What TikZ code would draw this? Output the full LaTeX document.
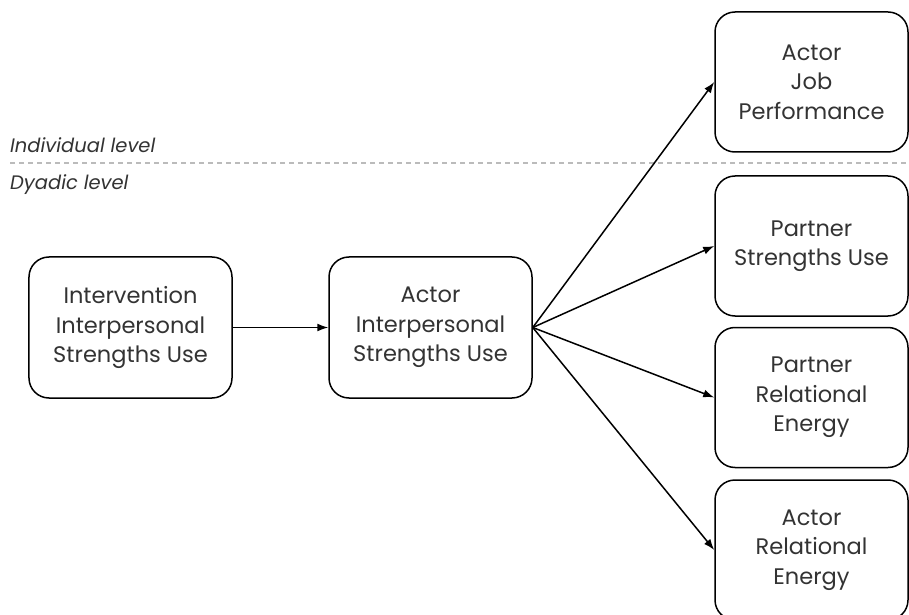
\documentclass[tikz,border=0pt]{standalone}
\usepackage{fontspec}
\setmainfont{Poppins}
\usetikzlibrary{arrows.meta}
\definecolor{txt}{HTML}{333333}
\definecolor{sep}{HTML}{BBBBBB}
\tikzset{
  box/.style={draw=black, line width=1.5bp, rounded corners=20bp, align=center,
    font=\fontsize{22.5bp}{29.5bp}\selectfont, text=txt, inner sep=0pt},
  leftbox/.style={box, minimum width=203bp, minimum height=141bp},
  rightbox/.style={box, minimum width=193bp, minimum height=140bp},
  link/.style={draw=black, line width=1.5bp, -{Latex[length=11bp,width=8bp]}},
  levellabel/.style={anchor=west, inner sep=0pt, text=txt,
    font=\fontsize{19.5bp}{22bp}\selectfont\itshape},
}
\begin{document}
\begin{tikzpicture}[x=1bp,y=-1bp]
  \useasboundingbox (0,0) rectangle (909,615);
  \clip (0,0) rectangle (909,615);
  \fill[white] (0,0) rectangle (909,615);

  % level separator
  \draw[sep, line width=1.2bp, dash pattern=on 5bp off 4bp] (10,163) -- (909,163);
  \node[levellabel] (ind) at (10,145) {Individual level};
  \node[levellabel] (dya) at (10,185) {Dyadic level};

  % boxes
  \node[leftbox] (interv) at (130.5,327.5) {Intervention\\Interpersonal\\Strengths Use};
  \node[leftbox] (actor) at (430.5,327.5) {Actor\\Interpersonal\\Strengths Use};
  \node[rightbox] (jobperf) at (811.5,82) {Actor\\Job\\Performance};
  \node[rightbox] (pstr) at (811.5,246) {Partner\\Strengths Use};
  \node[rightbox] (prel) at (811.5,397.5) {Partner\\Relational\\Energy};
  \node[rightbox] (arel) at (811.5,550) {Actor\\Relational\\Energy};

  % connectors
  \draw[link] (interv.east) -- (actor.west);
  \draw[link] (actor.east) -- (jobperf.west);
  \draw[link] (actor.east) -- (pstr.west);
  \draw[link] (actor.east) -- (prel.west);
  \draw[link] (actor.east) -- (arel.west);
\end{tikzpicture}
\end{document}
